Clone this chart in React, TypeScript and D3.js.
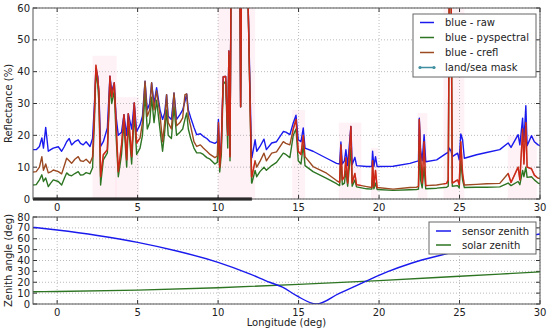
import React from 'react';
import * as d3 from 'd3';

// longitude samples along the scan line (deg)
const lon = [
  -1.5, -1.3, -1.1, -0.95, -0.85, -0.71, -0.55, -0.4, -0.24, 0.07, 0.28, 0.45, 0.59, 0.75, 0.9, 1.1, 1.31, 1.45, 1.62, 1.8,
  2.04, 2.2, 2.32, 2.41, 2.52, 2.6, 2.7, 2.87, 3.12, 3.28, 3.39, 3.55, 3.66, 3.8, 4.0, 4.15, 4.32, 4.42, 4.63, 4.79,
  4.94, 5.15, 5.3, 5.46, 5.6, 5.75, 5.87, 6.02, 6.18, 6.39, 6.55, 6.68, 6.8, 6.9, 7.1, 7.26, 7.42, 7.63, 7.8, 7.94,
  8.05, 8.15, 8.3, 8.5, 8.67, 8.9, 9.08, 9.3, 9.5, 9.8, 9.95, 10.02, 10.1, 10.2, 10.32, 10.47, 10.6, 10.67, 10.74, 10.8,
  11.3, 11.36, 11.4, 11.45, 11.85, 12.08, 12.1, 12.3, 12.4, 12.6, 12.85, 13.0, 13.33, 13.63, 14.05, 14.21, 14.46, 14.67, 14.84, 14.98,
  15.15, 15.29, 15.4, 15.9, 16.74, 17.36, 17.55, 17.63, 17.72, 17.85, 17.94, 18.05, 18.25, 18.33, 18.5, 18.6, 19.23, 19.55, 19.6, 19.68,
  19.78, 19.88, 20.88, 21.92, 22.33, 22.45, 22.5, 22.58, 22.68, 22.8, 22.9, 23.58, 24.2, 24.3, 24.36, 24.48, 24.55, 24.88, 24.98, 25.08,
  25.19, 25.3, 26.06, 26.68, 27.5, 28.02, 28.2, 28.64, 28.75, 28.92, 29.0, 29.12, 29.2, 29.47, 29.65, 29.88, 30.0,
];

const raw = [
  15.5, 15.5, 16.5, 19.2, 16, 22.5, 15, 15.5, 16, 16.4, 15, 16.5, 18, 19, 17, 18, 18.6, 17.5, 17, 18,
  16.5, 19, 30, 41, 38.6, 32.8, 16.5, 18, 22.3, 38.6, 33.9, 36.5, 26, 20, 21, 26.5, 20, 26.8, 22, 30.2,
  21.2, 23.3, 26, 37, 28, 30, 36.5, 30, 35, 28, 25, 27, 32.8, 26, 25, 33.3, 25, 26.5, 28, 30.7,
  33, 28, 25.5, 22.5, 20.2, 20.5, 19.7, 19, 18, 17.5, 18, 25, 13, 18, 38.4, 38.5, 20, 46.5, 14, 65,
  65, 65, 29, 65, 65, 13, 13, 18.6, 15, 16.5, 18.8, 15.5, 17.6, 18, 21.2, 21, 20.2, 23.9, 26.3, 18.6,
  18, 22.3, 16, 15, 12.8, 11.2, 11, 17.9, 11, 12, 15.5, 10.5, 22.8, 10.8, 13.1, 10.5, 10.2, 10.2, 15, 10.2,
  13.3, 10.2, 10.3, 11.2, 11.8, 12, 25.4, 15.5, 12, 20.2, 11.7, 12.3, 14.4, 14.6, 16, 15, 13.3, 14.4, 12.3, 20.4,
  18.6, 12.8, 13.9, 14.6, 15.5, 17.6, 16.2, 20.2, 17, 25.4, 18, 29.3, 16.7, 19.9, 18, 17, 16.8,
];

const pyspectral = [
  4.4, 4.5, 6, 7.6, 5.5, 6.6, 3.9, 5, 6, 5.5, 4.4, 6.5, 8.2, 7.5, 7.3, 8, 8.6, 7.5, 7.6, 8.3,
  7.9, 9.8, 25, 40, 36, 30, 4.4, 12.3, 14.5, 36, 30, 34, 20, 7, 14, 24, 10, 24, 11, 27,
  14, 16, 20, 33, 22, 24, 32, 24, 31, 21.8, 15, 21, 28, 20, 19, 29, 20, 21, 22, 25,
  27, 22, 19, 16, 14.5, 14.5, 14, 13, 12.5, 11, 11.5, 20, 8.5, 14, 36, 37, 16, 45, 12, 65,
  65, 65, 29, 65, 65, 5, 5, 9, 7, 8.6, 10, 9, 10.5, 11.5, 14.4, 14, 13, 20, 22, 12,
  11, 17, 10.5, 8.6, 6.5, 4.8, 4.2, 13, 4.5, 5, 9, 4, 16, 4, 6, 3.8, 3.2, 3.1, 7, 3.2,
  5, 3, 2.7, 2.9, 3, 3.1, 18, 6, 3.5, 10, 3.2, 3.4, 3.7, 4, 65, 65, 4, 4.2, 3.5, 12,
  6, 3.6, 3.7, 3.7, 3.8, 5, 4.2, 5.5, 4.5, 9, 7, 10, 6.8, 7, 6, 5, 4.8,
];

const crefl = [
  8.5, 8.6, 10, 13.3, 9, 11, 8.2, 8.5, 9.1, 8.6, 7.9, 10.5, 12.8, 12, 11.2, 12.5, 13.3, 12, 11.8, 12.5,
  11.2, 13.3, 28, 42, 38, 33.4, 7, 13.9, 15.5, 38.6, 32, 36.5, 24, 8.6, 17, 26.5, 12.3, 26.8, 13.3, 30.2,
  17.6, 19.1, 24, 37, 26, 28, 36.5, 28, 34, 26.5, 18, 24, 32.8, 24, 22, 33.3, 23, 24, 25.5, 32.8,
  33, 26, 22.8, 18, 16.5, 17, 16, 15, 14, 13, 13.5, 24, 10, 17, 38.4, 38.5, 20, 46.5, 13.3, 65,
  65, 65, 29, 65, 65, 7, 7, 12, 10, 11.8, 14.4, 12, 14.4, 14.8, 18, 17.5, 17, 22, 25, 15,
  14, 20, 13.3, 10.2, 8.1, 5.8, 5.2, 17, 6, 7, 13, 5, 22.8, 5, 8, 4.5, 3.9, 3.6, 12, 4,
  9, 3.6, 3.1, 3.6, 3.7, 4, 25, 14, 5, 18, 4.2, 4.4, 4.9, 6, 65, 65, 5, 6, 4.5, 18,
  8, 4.4, 4.6, 4.8, 4.9, 8, 5.2, 10, 6, 22, 11, 24, 10, 9.5, 7.5, 6.5, 6.5,
];

// cloud flagged stretches (pink bands)
const maskStart = [2.2, 3.6, 10.0, 14.6, 17.5, 19.5, 22.4, 24.0, 28.0];
const maskEnd = [3.7, 5.1, 12.3, 15.4, 18.9, 19.95, 23.0, 25.3, 29.8];
const maskTop = [45, 32, 62, 28, 24, 16, 27, 62, 20];

// land part of the track
const landLon = [-1.5, 12.1];

const sensorLon = [-1.5, 0, 2.5, 5, 7.5, 10, 12, 13.2, 14, 14.9, 16.1, 17.5, 19.2, 20.5, 22, 24, 27, 30];
const sensorZenith = [70.5, 68, 63, 56.7, 48.5, 38.3, 27.5, 20, 15.5, 7.4, 0, 9.5, 21, 29.5, 37.5, 45.5, 56, 64.4];

const solarLon = [-1.5, 0, 5, 10, 15, 20, 25, 30];
const solarZenith = [11.3, 11.5, 12.8, 15, 18, 21.5, 25.5, 29.5];

const xTicks = [0, 5, 10, 15, 20, 25, 30];
const reflTicks = [0, 10, 20, 30, 40, 50, 60];
const angleTicks = [0, 10, 20, 30, 40, 50, 60, 70, 80];

const W = 550;
const H = 333;
const L = 33;
const R = 540;
const top1 = 8, bot1 = 199;
const top2 = 217, bot2 = 304;

const BLUE = '#1a1aee';
const GREEN = '#2e7523';
const BROWN = '#9c4a22';
const RED = '#f01010';
const FONT = 'DejaVu Sans, sans-serif';
const FS = 10;

const x = d3.scaleLinear().domain([-1.5, 30]).range([L, R]);
const yRefl = d3.scaleLinear().domain([0, 60]).range([bot1, top1]);
const yAng = d3.scaleLinear().domain([0, 80]).range([bot2, top2]);

function Frame({ y, yTicks, top, bot }: { y: d3.ScaleLinear<number, number>; yTicks: number[]; top: number; bot: number }) {
  return (
    <g>
      {xTicks.map(t => (
        <g key={'gx' + t}>
          <line x1={x(t)} x2={x(t)} y1={top} y2={bot} stroke="#aaa" strokeDasharray="1,2" strokeWidth={0.8} />
          <line x1={x(t)} x2={x(t)} y1={bot} y2={bot - 4} stroke="#333" />
          <line x1={x(t)} x2={x(t)} y1={top} y2={top + 4} stroke="#333" />
          <text x={x(t)} y={bot + 12} textAnchor="middle" fontSize={FS} fill="#222" fontFamily={FONT}>{t}</text>
        </g>
      ))}
      {yTicks.map(t => (
        <g key={'gy' + t}>
          <line x1={L} x2={R} y1={y(t)} y2={y(t)} stroke="#aaa" strokeDasharray="1,2" strokeWidth={0.8} />
          <line x1={L} x2={L + 4} y1={y(t)} y2={y(t)} stroke="#333" />
          <line x1={R} x2={R - 4} y1={y(t)} y2={y(t)} stroke="#333" />
          <text x={L - 3} y={y(t) + 3.5} textAnchor="end" fontSize={FS} fill="#222" fontFamily={FONT}>{t}</text>
        </g>
      ))}
    </g>
  );
}

export default function App() {
  const idx = lon.map((_, i) => i);
  const mk = (vals: number[]) =>
    d3.line<number>().x(i => x(lon[i])).y(i => yRefl(vals[i]))(idx) || '';
  const angLine = (xs: number[], ys: number[]) =>
    d3.line<number>().x(i => x(xs[i])).y(i => yAng(ys[i])).curve(d3.curveMonotoneX)(xs.map((_, i) => i)) || '';

  return (
    <svg width={W} height={H} style={{ position: 'absolute', left: 0, top: 0, background: '#fff' }}>
      <defs>
        <clipPath id="c1"><rect x={L} y={top1} width={R - L} height={bot1 - top1} /></clipPath>
        <clipPath id="cm">
          {maskStart.map((s, i) => (
            <rect key={i} x={x(s)} y={top1} width={x(maskEnd[i]) - x(s)} height={bot1 - top1} />
          ))}
        </clipPath>
        <clipPath id="c2"><rect x={L} y={top2} width={R - L} height={bot2 - top2} /></clipPath>
      </defs>
      <rect width={W} height={H} fill="#fff" />

      {/* top panel */}
      <g clipPath="url(#c1)">
        {maskStart.map((s, i) => (
          <rect key={i} x={x(s)} y={yRefl(Math.min(maskTop[i], 60))} width={x(maskEnd[i]) - x(s)}
            height={bot1 - yRefl(Math.min(maskTop[i], 60))} fill="#ffdbe8" opacity={0.35} />
        ))}
      </g>
      <Frame y={yRefl} yTicks={reflTicks} top={top1} bot={bot1} />
      <g clipPath="url(#c1)" fill="none" strokeWidth={1.4} strokeLinejoin="round">
        <path d={mk(raw)} stroke={BLUE} />
        <path d={mk(pyspectral)} stroke={GREEN} />
        <path d={mk(crefl)} stroke={BROWN} />
        <g clipPath="url(#cm)">
          <path d={mk(crefl)} stroke={RED} strokeOpacity={0.6} />
        </g>
      </g>
      <line x1={x(landLon[0])} x2={x(landLon[1])} y1={yRefl(0)} y2={yRefl(0)} stroke="#000" strokeWidth={3} />
      <rect x={L} y={top1} width={R - L} height={bot1 - top1} fill="none" stroke="#555" strokeWidth={1} />
      <text transform={`translate(12,${(top1 + bot1) / 2}) rotate(-90)`} textAnchor="middle" fontSize={FS} fill="#222" fontFamily={FONT}>Reflectance (%)</text>

      <g>
        <rect x={413} y={14} width={123} height={63} fill="#fff" stroke="#666" strokeWidth={1} />
        {[
          ['blue - raw', BLUE],
          ['blue - pyspectral', GREEN],
          ['blue - crefl', BROWN],
          ['land/sea mask', '#3f8fa0'],
        ].map(([label, c], i) => (
          <g key={label}>
            <line x1={420} x2={434} y1={22.5 + i * 15} y2={22.5 + i * 15} stroke={c} strokeWidth={1.5} />
            {i === 3 && (
              <g fill={c}>
                <circle cx={420} cy={22.5 + i * 15} r={1.6} />
                <circle cx={434} cy={22.5 + i * 15} r={1.6} />
              </g>
            )}
            <text x={445} y={26 + i * 15} fontSize={FS} fill="#222" fontFamily={FONT}>{label}</text>
          </g>
        ))}
      </g>

      {/* bottom panel */}
      <Frame y={yAng} yTicks={angleTicks} top={top2} bot={bot2} />
      <g clipPath="url(#c2)" fill="none" strokeWidth={1.4}>
        <path d={angLine(solarLon, solarZenith)} stroke={GREEN} />
        <path d={angLine(sensorLon, sensorZenith)} stroke={BLUE} />
      </g>
      <rect x={L} y={top2} width={R - L} height={bot2 - top2} fill="none" stroke="#555" strokeWidth={1} />
      <text transform={`translate(12,${(top2 + bot2) / 2}) rotate(-90)`} textAnchor="middle" fontSize={FS} fill="#222" fontFamily={FONT}>Zenith angle (deg)</text>
      <text x={(L + R) / 2} y={326} textAnchor="middle" fontSize={FS} fill="#222" fontFamily={FONT}>Longitude (deg)</text>

      <g>
        <rect x={429} y={222} width={107} height={32} fill="#fff" stroke="#666" strokeWidth={1} />
        {[
          ['sensor zenith', BLUE],
          ['solar zenith', GREEN],
        ].map(([label, c], i) => (
          <g key={label}>
            <line x1={436} x2={451} y1={231 + i * 14} y2={231 + i * 14} stroke={c} strokeWidth={1.5} />
            <text x={462} y={234.5 + i * 14} fontSize={FS} fill="#222" fontFamily={FONT}>{label}</text>
          </g>
        ))}
      </g>
    </svg>
  );
}
